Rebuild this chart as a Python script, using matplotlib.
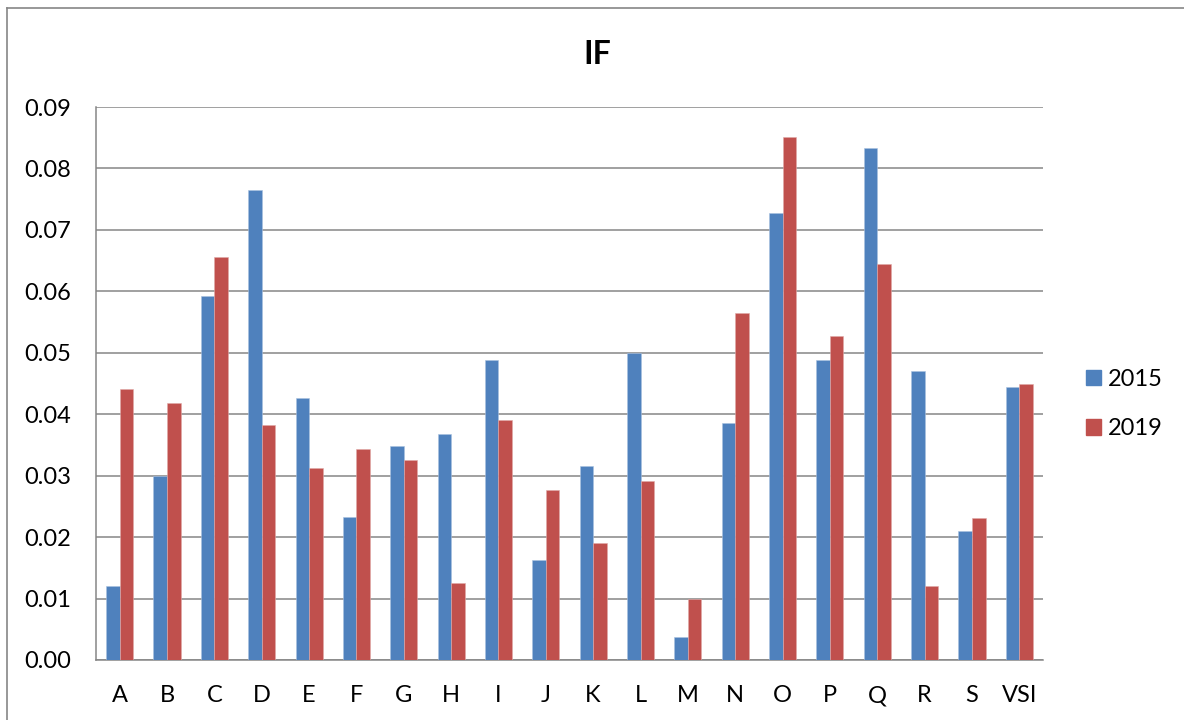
import matplotlib
matplotlib.use("Agg")
import matplotlib.pyplot as plt
from matplotlib.patches import Patch
import numpy as np

# --- Datos ---
categorias = ["A", "B", "C", "D", "E", "F", "G", "H", "I", "J",
              "K", "L", "M", "N", "O", "P", "Q", "R", "S", "VSI"]
valores_2015 = [0.0120, 0.0300, 0.0593, 0.0765, 0.0426, 0.0232, 0.0349, 0.0368, 0.0488, 0.0163,
                0.0315, 0.0500, 0.0038, 0.0385, 0.0727, 0.0488, 0.0834, 0.0471, 0.0210, 0.0444]
valores_2019 = [0.0441, 0.0418, 0.0656, 0.0383, 0.0313, 0.0343, 0.0326, 0.0125, 0.0390, 0.0276,
                0.0190, 0.0291, 0.0100, 0.0565, 0.0851, 0.0528, 0.0645, 0.0120, 0.0231, 0.0450]
series = ["2015", "2019"]
yticks = [0.00, 0.01, 0.02, 0.03, 0.04, 0.05, 0.06, 0.07, 0.08, 0.09]

azul = "#4F81BD"
rojo = "#C0504D"
gris = "#868686"

plt.rcParams['font.family'] = ['Lato', 'DejaVu Sans']

fig = plt.figure(figsize=(11.84, 7.2), dpi=100)
ax = fig.add_axes([96 / 1184, 60 / 720, 947 / 1184, 553 / 720])

x = np.arange(len(categorias))
w = 0.2857
ax.bar(x - w / 2, valores_2015, w, color=azul, edgecolor="#a9c1e0", linewidth=0.4, zorder=3)
ax.bar(x + w / 2, valores_2019, w, color=rojo, edgecolor="#e0a9a8", linewidth=0.4, zorder=3)

ax.set_xlim(-0.5, len(categorias) - 0.5)
ax.set_ylim(0, 0.09)
ax.set_yticks(yticks)
ax.set_yticklabels([f"{v:.2f}" for v in yticks])
ax.set_xticks(x)
ax.set_xticklabels(categorias)
ax.tick_params(axis="both", length=0, labelsize=17, pad=18)
ax.yaxis.grid(True, color=gris, linewidth=1.1, zorder=0)
ax.set_axisbelow(True)

for lado in ["top", "right"]:
    ax.spines[lado].set_visible(False)
ax.spines["left"].set_color(gris)
ax.spines["bottom"].set_color(gris)
ax.spines["left"].set_linewidth(1.1)
ax.spines["bottom"].set_linewidth(1.1)

fig.text(597 / 1184, 1 - 55 / 720, "IF", ha="center", va="center",
         fontsize=23, fontweight="bold")

handles = [Patch(color=azul), Patch(color=rojo)]
ax.legend(handles, series, loc="center left", bbox_to_anchor=(1.045, 0.463),
          frameon=False, fontsize=17, handlelength=0.65, handleheight=0.65,
          handletextpad=0.3, labelspacing=1.2, borderpad=0, borderaxespad=0)

# borde exterior del grafico (solo izquierda y arriba son visibles)
fig.add_artist(plt.Line2D([7 / 1184, 7 / 1184], [0, 1 - 8 / 720], color=gris, linewidth=1.2,
                          transform=fig.transFigure))
fig.add_artist(plt.Line2D([7 / 1184, 1], [1 - 8 / 720, 1 - 8 / 720], color=gris, linewidth=1.2,
                          transform=fig.transFigure))

fig.savefig("out.png", dpi=100)
